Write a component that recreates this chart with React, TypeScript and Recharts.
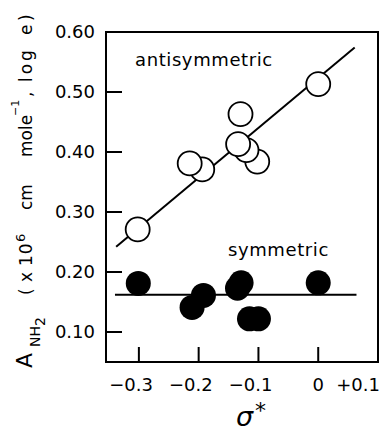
import React from 'react';
import { ComposedChart, Scatter, XAxis, YAxis } from 'recharts';

const xTicks = [-0.3, -0.2, -0.1, 0, 0.1];
const xTickLabels = ['−0.3', '−0.2', '−0.1', '0', '+0.1'];
const yTicks = [0.1, 0.2, 0.3, 0.4, 0.5, 0.6];
const yTickLabels = ['0.10', '0.20', '0.30', '0.40', '0.50', '0.60'];
const xDomain = [-0.355, 0.1];
const yDomain = [0.05, 0.6];

// open circles (antisymmetric), drawing order matters for overlap
const antisymmetric = [
  { x: 0.0, y: 0.513 },
  { x: -0.13, y: 0.463 },
  { x: -0.102, y: 0.384 },
  { x: -0.12, y: 0.403 },
  { x: -0.134, y: 0.413 },
  { x: -0.194, y: 0.371 },
  { x: -0.215, y: 0.381 },
  { x: -0.302, y: 0.271 },
];

// filled circles (symmetric)
const symmetric = [
  { x: -0.301, y: 0.181 },
  { x: -0.211, y: 0.141 },
  { x: -0.192, y: 0.161 },
  { x: -0.129, y: 0.182 },
  { x: -0.135, y: 0.173 },
  { x: -0.115, y: 0.122 },
  { x: -0.1, y: 0.122 },
  { x: 0.0, y: 0.182 },
];

const antiFit = [
  { x: -0.338, y: 0.242 },
  { x: 0.061, y: 0.574 },
];
const symFit = [
  { x: -0.34, y: 0.162 },
  { x: 0.064, y: 0.162 },
];

const FONT = '"DejaVu Sans", sans-serif';

// chart layout
const W = 389;
const H = 431;
const M = { top: 32, right: 11, bottom: 0, left: 0 };
const Y_AXIS_W = 106;
const X_AXIS_H = 69;
const PLOT = {
  x: M.left + Y_AXIS_W,
  y: M.top,
  w: W - M.left - Y_AXIS_W - M.right,
  h: H - M.top - M.bottom - X_AXIS_H,
};

function XTick(props: any) {
  const { x, y, index } = props;
  const v = xTicks[index];
  const label = xTickLabels[index];
  const showLine = v < 0.05;
  let anchor: any = 'middle';
  let dx = 0;
  if (v < -0.01) {
    anchor = 'end';
    dx = 14;
  } else if (v > 0.05) {
    anchor = 'end';
    dx = 2;
  }
  return (
    <g>
      {showLine && <line x1={x} x2={x} y1={y} y2={y - 15} stroke="#000" strokeWidth={2} />}
      <text x={x + dx} y={y + 29} textAnchor={anchor} fontSize={18} fontFamily={FONT} fill="#000">
        {label}
      </text>
    </g>
  );
}

function YTick(props: any) {
  const { x, y, index } = props;
  const v = yTicks[index];
  return (
    <g>
      {v < 0.55 && <line x1={x} x2={x + 16} y1={y} y2={y} stroke="#000" strokeWidth={2} />}
      <text x={x - 11} y={y} dy="0.36em" textAnchor="end" fontSize={18} fontFamily={FONT} fill="#000">
        {yTickLabels[index]}
      </text>
    </g>
  );
}

const openShape = (p: any) => (
  <circle cx={p.cx} cy={p.cy} r={12} fill="#fff" stroke="#000" strokeWidth={1.8} />
);
const filledShape = (p: any) => <circle cx={p.cx} cy={p.cy} r={12.5} fill="#000" stroke="none" />;
const noShape = () => <g />;

const yLabelSegments = [
  { t: 'A', y: 368, x: 32, s: 22, ls: 0 },
  { t: 'NH', y: 347, x: 40, s: 14, ls: 0 },
  { t: '2', y: 326, x: 45, s: 14, ls: 0 },
  { t: '(', y: 295, x: 32, s: 17, ls: 0 },
  { t: 'x', y: 282, x: 32, s: 17, ls: 0 },
  { t: '10', y: 266, x: 32, s: 17, ls: 1 },
  { t: '6', y: 242, x: 25, s: 13, ls: 0 },
  { t: 'cm', y: 210, x: 32, s: 17, ls: 0 },
  { t: 'mole', y: 157, x: 32, s: 17, ls: 0 },
  { t: '−1', y: 116, x: 19, s: 11, ls: 0 },
  { t: ',', y: 97, x: 32, s: 17, ls: 0 },
  { t: 'log', y: 82, x: 32, s: 17, ls: 3 },
  { t: 'e', y: 35, x: 32, s: 17, ls: 0 },
  { t: ')', y: 21, x: 32, s: 17, ls: 0 },
];

const frameLine = { stroke: '#000', strokeWidth: 2 };

export default function App() {
  return (
    <div style={{ position: 'absolute', left: 0, top: 0, width: W, height: H, background: '#fff' }}>
      <ComposedChart width={W} height={H} margin={M}>
        <XAxis
          type="number"
          dataKey="x"
          domain={xDomain}
          ticks={xTicks}
          height={X_AXIS_H}
          tickSize={0}
          tickMargin={0}
          tick={XTick}
          axisLine={frameLine}
          tickLine={false}
          interval={0}
        />
        <YAxis
          type="number"
          dataKey="y"
          domain={yDomain}
          ticks={yTicks}
          width={Y_AXIS_W}
          tickSize={0}
          tickMargin={0}
          tick={YTick}
          axisLine={frameLine}
          tickLine={false}
          interval={0}
        />
        <Scatter data={antiFit} line={{ stroke: '#000', strokeWidth: 2 }} shape={noShape} isAnimationActive={false} />
        <Scatter data={symFit} line={{ stroke: '#000', strokeWidth: 2 }} shape={noShape} isAnimationActive={false} />
        <Scatter data={antisymmetric} shape={openShape} isAnimationActive={false} />
        <Scatter data={symmetric} shape={filledShape} isAnimationActive={false} />
      </ComposedChart>
      <svg
        width={W}
        height={H}
        style={{ position: 'absolute', left: 0, top: 0, pointerEvents: 'none' }}
      >
        <rect x={PLOT.x} y={PLOT.y} width={PLOT.w} height={PLOT.h} fill="none" stroke="#000" strokeWidth={2} />
        <text x={135} y={66} fontSize={18} letterSpacing={0.6} fontFamily={FONT} fill="#000">
          antisymmetric
        </text>
        <text x={228} y={256} fontSize={18} letterSpacing={0.6} fontFamily={FONT} fill="#000">
          symmetric
        </text>
        {yLabelSegments.map((sg, i) => (
          <text
            key={i}
            transform={`translate(${sg.x},${sg.y}) rotate(-90)`}
            fontSize={sg.s}
            letterSpacing={sg.ls}
            fontFamily={FONT}
            fill="#000"
          >
            {sg.t}
          </text>
        ))}
        <text x={236} y={426} fontSize={27} fontStyle="italic" fontFamily={FONT} fill="#000">
          σ
        </text>
        <text x={255} y={418} fontSize={22} fontFamily={FONT} fill="#000">
          *
        </text>
      </svg>
    </div>
  );
}
